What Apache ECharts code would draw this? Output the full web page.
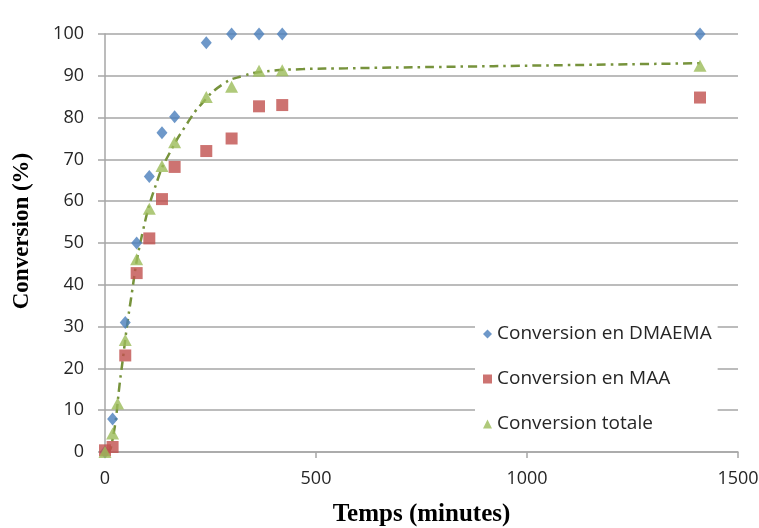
<!DOCTYPE html>
<html>
<head>
<meta charset="utf-8">
<script src="https://cdn.jsdelivr.net/npm/echarts@6/dist/echarts.min.js"></script>
<style>
  html, body { margin: 0; padding: 0; background: #fff; }
  #chart { width: 759px; height: 528px; }
</style>
</head>
<body>
<div id="chart"></div>
<script>
// temps (minutes) et conversions
var tDmaema = [0, 18, 48, 75, 105, 135, 165, 240, 300, 365, 420, 1410];
var vDmaema = [0, 7.9, 31.0, 50.0, 65.9, 76.4, 80.2, 97.9, 100, 100, 100, 100];

var tMaa = [0, 18, 48, 75, 105, 135, 165, 240, 300, 365, 420, 1410];
var vMaa = [0.4, 1.2, 23.1, 42.8, 51.1, 60.5, 68.2, 72.0, 75.0, 82.7, 83.0, 84.8];

var tTotale = [0, 18, 30, 48, 75, 105, 135, 165, 240, 300, 365, 420, 1410];
var vTotale = [0, 4.4, 11.6, 26.8, 46.1, 58.2, 68.4, 74.1, 84.9, 87.4, 91.2, 91.3, 92.4];

// courbe de tendance (pointillés)
var tTrend = [0, 14, 38, 60, 89, 127, 154, 189, 229, 281, 328, 375, 470, 573, 1268, 1410];
var vTrend = [0, 1, 18.9, 35.6, 52.5, 65.8, 71.7, 77.7, 83.3, 88.1, 90.0, 91.0, 91.6, 91.8, 92.8, 93.0];

var xTicks = [0, 500, 1000, 1500];
var yTicks = [0, 10, 20, 30, 40, 50, 60, 70, 80, 90, 100];

function pairs(t, v) {
	var out = [];
	for (var i = 0; i < t.length; i++) {
		out.push([t[i], v[i]]);
	}
	return out;
}

var dom = document.getElementById("chart");
var myChart = echarts.init(dom);
var lblFont = "'Open Sans', sans-serif";
var titleFont = "'Liberation Serif', serif";
var gridGrey = '#a6a6a6';
var option = {
	animation: false,
	backgroundColor: '#fff',
	grid: {
		left: 105,
		right: 21,
		top: 34,
		bottom: 76,
		outerBoundsMode: 'none'
	},
	legend: {
		orient: 'vertical',
		left: 475,
		top: 318,
		padding: [6, 6, 6, 8],
		backgroundColor: '#fff',
		itemWidth: 9,
		itemHeight: 9,
		itemGap: 25,
		data: [
			{ name: 'Conversion en DMAEMA', icon: 'diamond' },
			{ name: 'Conversion en MAA', icon: 'rect' },
			{ name: 'Conversion totale', icon: 'triangle' }
		],
		textStyle: {
			fontFamily: lblFont,
			fontSize: 19,
			color: '#262626',
			lineHeight: 20
		}
	},
	xAxis: {
		type: 'value',
		min: xTicks[0],
		max: xTicks[xTicks.length - 1],
		interval: 500,
		name: 'Temps (minutes)',
		nameLocation: 'middle',
		nameGap: 50,
		nameTextStyle: {
			fontFamily: titleFont,
			fontWeight: 'bold',
			fontSize: 25,
			color: '#000'
		},
		axisLine: { lineStyle: { color: gridGrey, width: 1.5 } },
		axisTick: { show: true, length: 6, lineStyle: { color: gridGrey, width: 1.5 } },
		axisLabel: {
			fontFamily: lblFont, fontSize: 18, color: '#262626', margin: 18,
			formatter: function (v) { return String(v); }
		},
		splitLine: { show: false }
	},
	yAxis: {
		type: 'value',
		min: yTicks[0],
		max: yTicks[yTicks.length - 1],
		interval: 10,
		name: 'Conversion (%)',
		nameLocation: 'middle',
		nameGap: 71,
		nameTextStyle: {
			fontFamily: titleFont,
			fontWeight: 'bold',
			fontSize: 23,
			color: '#000',
			padding: [0, 0, 0, 24]
		},
		axisLine: { show: true, lineStyle: { color: gridGrey, width: 1.5 } },
		axisTick: { show: true, length: 7, lineStyle: { color: gridGrey, width: 1.5 } },
		axisLabel: { fontFamily: lblFont, fontSize: 18, color: '#262626', margin: 21 },
		splitLine: { show: true, lineStyle: { color: gridGrey, width: 1.5 } }
	},
	series: [
		{
			name: 'Tendance',
			type: 'line',
			smooth: true,
			showSymbol: false,
			symbol: 'none',
			data: pairs(tTrend, vTrend),
			lineStyle: { color: '#77933c', width: 2.5, type: [9, 5, 2.5, 5] },
			z: 3
		},
		{
			name: 'Conversion en DMAEMA',
			type: 'scatter',
			symbol: 'diamond',
			symbolSize: [11, 13],
			data: pairs(tDmaema, vDmaema),
			itemStyle: { color: '#4a7ebb' },
			z: 4
		},
		{
			name: 'Conversion en MAA',
			type: 'scatter',
			symbol: 'rect',
			symbolSize: 12,
			data: pairs(tMaa, vMaa),
			itemStyle: { color: '#c0504d' },
			z: 4
		},
		{
			name: 'Conversion totale',
			type: 'scatter',
			symbol: 'triangle',
			symbolSize: [13, 12],
			data: pairs(tTotale, vTotale),
			itemStyle: { color: '#9bbb59' },
			z: 4
		}
	]
};
if (option && typeof option === "object") {
	myChart.setOption(option, true);
}
</script>
</body>
</html>
